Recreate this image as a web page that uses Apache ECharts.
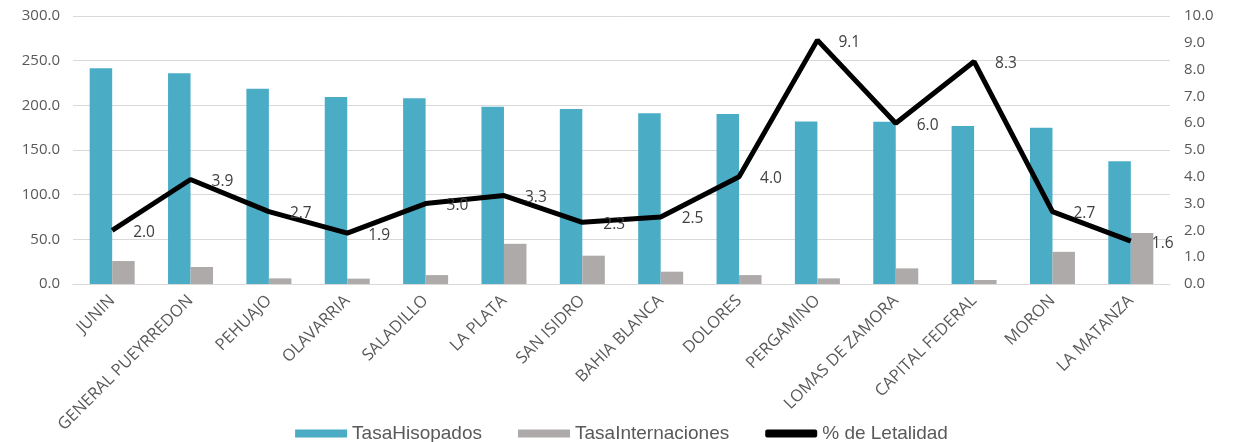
<!DOCTYPE html>
<html>
<head>
<meta charset="utf-8">
<script src="https://cdn.jsdelivr.net/npm/echarts@6/dist/echarts.min.js"></script>
<style>
html,body{margin:0;padding:0;background:#fff;}
#c{width:1243px;height:442px;}
</style>
</head>
<body>
<div id="c"></div>
<script>
var categories = ["JUNIN","GENERAL PUEYRREDON","PEHUAJO","OLAVARRIA","SALADILLO","LA PLATA","SAN ISIDRO","BAHIA BLANCA","DOLORES","PERGAMINO","LOMAS DE ZAMORA","CAPITAL FEDERAL","MORON","LA MATANZA"];
var tasaHisopados = [241.5, 235.8, 218.6, 209.3, 207.9, 198.5, 195.9, 191.0, 190.3, 182.0, 181.7, 176.9, 175.0, 137.3];
var tasaInternaciones = [25.7, 19.0, 6.3, 6.0, 10.0, 45.0, 31.7, 13.8, 10.0, 6.3, 17.5, 4.5, 36.0, 57.0];
var letalidad = [2.0, 3.9, 2.7, 1.9, 3.0, 3.3, 2.3, 2.5, 4.0, 9.1, 6.0, 8.3, 2.7, 1.6];
var seriesNames = ["TasaHisopados", "TasaInternaciones", "% de Letalidad"];

var chart = echarts.init(document.getElementById('c'), null, {renderer: 'canvas'});
var axisFont = {color: '#595959', fontFamily: 'Open Sans', fontSize: 15};
chart.setOption({
  animation: false,
  backgroundColor: '#ffffff',
  grid: {left: 73, right: 73, top: 16, height: 268},
  legend: {
    data: [
      {name: seriesNames[0], icon: 'rect'},
      {name: seriesNames[1], icon: 'rect'},
      {name: seriesNames[2], icon: 'roundRect', itemStyle: {color: '#000000'}}
    ],
    left: 'center',
    top: 419,
    itemWidth: 52,
    itemHeight: 8,
    itemGap: 36,
    textStyle: {color: '#595959', fontFamily: 'Liberation Sans', fontSize: 19}
  },
  xAxis: {
    type: 'category',
    data: categories,
    axisTick: {show: false},
    axisLine: {lineStyle: {color: '#d9d9d9', width: 1}},
    axisLabel: {interval: 0, rotate: 45, margin: 14, color: '#595959', fontFamily: 'Open Sans', fontSize: 16.5}
  },
  yAxis: [
    {
      type: 'value', min: 0, max: 300, interval: 50,
      axisLabel: Object.assign({margin: 13, formatter: function(v){return v.toFixed(1);}}, axisFont),
      splitLine: {lineStyle: {color: '#d9d9d9', width: 1}},
      axisLine: {show: false}, axisTick: {show: false}
    },
    {
      type: 'value', min: 0, max: 10, interval: 1, position: 'right',
      axisLabel: Object.assign({margin: 14, formatter: function(v){return v.toFixed(1);}}, axisFont),
      splitLine: {show: false},
      axisLine: {show: false}, axisTick: {show: false}
    }
  ],
  series: [
    {
      name: seriesNames[0], type: 'bar', data: tasaHisopados,
      barWidth: 22.5, barGap: '0%',
      itemStyle: {color: '#4bacc6'}
    },
    {
      name: seriesNames[1], type: 'bar', data: tasaInternaciones,
      barWidth: 22.5, barGap: '0%',
      itemStyle: {color: '#aeaaaa'}
    },
    {
      name: seriesNames[2], type: 'line', yAxisIndex: 1, data: letalidad,
      symbol: 'circle', symbolSize: 0, showSymbol: true,
      lineStyle: {color: '#000000', width: 5},
      itemStyle: {color: '#000000'},
      label: {
        show: true, position: 'right', distance: 21, offset: [0, 2],
        color: '#404040', fontFamily: 'Open Sans', fontSize: 15.5,
        formatter: function(p){return p.value.toFixed(1);}
      },
      z: 5
    }
  ]
});
</script>
</body>
</html>
